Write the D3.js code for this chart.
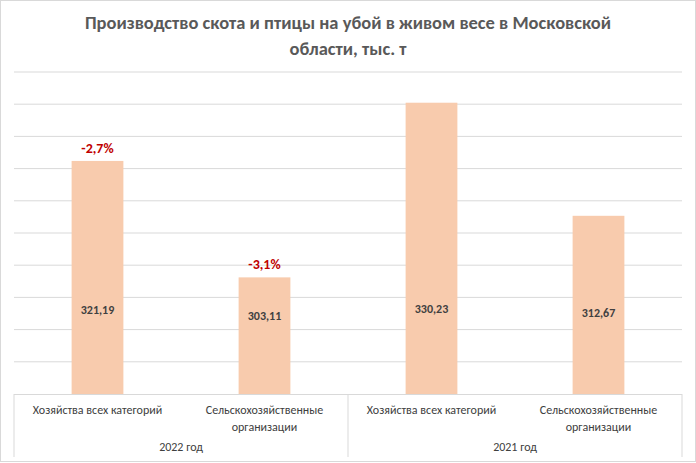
<!DOCTYPE html><html><head><meta charset="utf-8"><script src="https://cdn.jsdelivr.net/npm/d3@7"></script>
<style>body{margin:0;background:#fff}text{font-family:Calibri,Carlito,"Liberation Sans",sans-serif}</style></head><body>
<svg id="c" width="696" height="463"></svg>
<script>
const categories=["Хозяйства всех категорий","Сельскохозяйственные организации","Хозяйства всех категорий","Сельскохозяйственные организации"];
const groups=["2022 год","2021 год"];
const values=[321.19,303.11,330.23,312.67];
const changes=["-2,7%","-3,1%",null,null];
const svg=d3.select("#c");
svg.append("rect").attr("x",0.5).attr("y",0.5).attr("width",695).attr("height",461).attr("fill","#fff").attr("stroke","#d9d9d9");
const L=14,R=682,T=72,B=394;
const x=d3.scaleBand().domain(d3.range(4)).range([L,R]).paddingInner(0.69).paddingOuter(0.345);
const y=d3.scaleLinear().domain([285,335]).range([B,T]);
svg.append("g").selectAll("line").data(d3.range(290,336,5)).join("line")
 .attr("x1",L).attr("x2",R).attr("y1",d=>y(d)).attr("y2",d=>y(d)).attr("stroke","#d9d9d9");
svg.append("g").selectAll("rect").data(values).join("rect")
 .attr("x",(d,i)=>x(i)).attr("width",x.bandwidth()).attr("y",d=>y(d)).attr("height",d=>B-y(d)).attr("fill","#f8cbad");
const fmt=v=>v.toFixed(2).replace(".",",");
svg.append("g").selectAll("text").data(values).join("text")
 .attr("x",(d,i)=>x(i)+x.bandwidth()/2).attr("y",(d,i)=>[314,320,313,317][i]).attr("text-anchor","middle").attr("font-size",12).attr("font-weight","bold").attr("fill","#404040").text(fmt);
svg.append("g").selectAll("text").data(values.map((v,i)=>[v,changes[i],i]).filter(d=>d[1])).join("text")
 .attr("x",d=>x(d[2])+x.bandwidth()/2).attr("y",d=>y(d[0])-8).attr("text-anchor","middle").attr("font-size",14).attr("font-weight","bold").attr("fill","#c00000").text(d=>d[1]);
svg.append("line").attr("x1",L).attr("x2",R).attr("y1",B+0.5).attr("y2",B+0.5).attr("stroke","#d9d9d9");
const mid=(L+R)/2;
[L,mid,R].forEach(v=>svg.append("line").attr("x1",v).attr("x2",v).attr("y1",B).attr("y2",457).attr("stroke","#d9d9d9"));
categories.forEach((c,i)=>{
 const cx=x(i)+x.bandwidth()/2;
 const lines=c.startsWith("Сельско")?["Сельскохозяйственные","организации"]:[c];
 lines.forEach((l,j)=>svg.append("text").attr("x",cx).attr("y",414+j*17).attr("text-anchor","middle").attr("font-size",12).attr("fill","#404040").text(l));
});
groups.forEach((g,i)=>svg.append("text").attr("x",L+(mid-L)*(i+0.5)).attr("y",451).attr("text-anchor","middle").attr("font-size",12).attr("fill","#404040").text(g));
["Производство скота и птицы на убой в живом весе в Московской","области, тыс. т"].forEach((t,j)=>
 svg.append("text").attr("x",348).attr("y",29+j*26).attr("text-anchor","middle").attr("font-size",18.5).attr("font-weight","bold").attr("fill","#595959").text(t));
</script></body></html>
